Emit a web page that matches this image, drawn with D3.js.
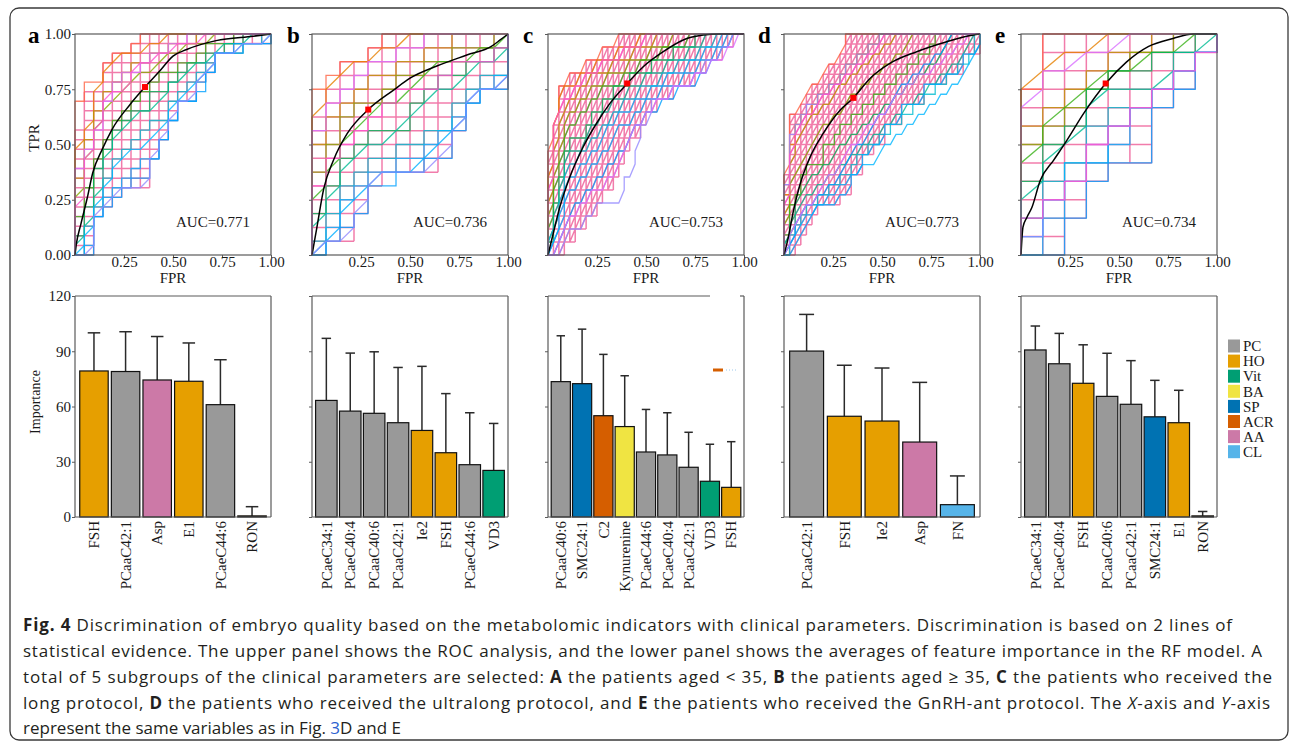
<!DOCTYPE html>
<html>
<head>
<meta charset="utf-8">
<script src="https://cdn.jsdelivr.net/npm/d3@7"></script>
<style>
body { margin: 0; background: #fff; }
svg { display: block; }
</style>
</head>
<body>
<svg id="fig"></svg>
<script>
const width = 1293;
const height = 745;
const svg = d3.select("#fig").attr("width", width).attr("height", height);

// ---------- data ----------
const panelLetters = ["a", "b", "c", "d", "e"];
const aucs = [0.771, 0.736, 0.753, 0.773, 0.734];
// ROC grid: number of FPR steps and TPR steps per panel
const gridNx = [21, 14, 36, 35, 9];
const gridNy = [23, 16, 17, 22, 12];

// each resampled ROC curve = TPR count reached at each FPR column (base36 char per column, missing = top)
const rocA = ["giikllmn", "bdhjklllmm", "8cfhijkkllmmm", "6adfghijjkllmmm", "47acefghijjkklmmm",
  "259bdeffhhijkkllmm", "136acdeffgiijkklmmm", "0358abcdeeghijklllmm", "02579abbcdfghijlllmmm",
  "0146789aaceggijlllmmm", "00456788acegghjllmmmm", "00456777aceggijlllmmm", "9bdgijjkllmm", "5adghhjkkllmmm"];
const rocB = ["cdeefg", "acdeeff", "8abcddeeff", "68abbcddeefffgg", "4689abbcdeeeffg", "3578999bcddeefg",
  "2467889abccdeeg", "1356778899bcddg", "0245667789abcdg", "01345666789bccg", "01235566779bccg",
  "01135666679bccg", "9bcdeeff", "5789abcccdeeefg"];
const rocC = ["8addeeefffggg", "6acdddeeeffffgggg", "48abccddeeeeffffgggg", "368abbccdddeeeeffffgggg",
  "2579aabbccddddeeeffffggggg", "1468999abbccdddeeeeffffgggg", "13578889aabbcccdddeeeeffffggg",
  "1246778899aabbcccddddeeeffffggg", "01356677889aabbbcccdddeeeefffggg", "0124556677889aaabbcccddddeeefffgg",
  "0012344556677889aabbbcccddddeeffgg", "00012223344444668aaccccddddeefffgghhh",
  "0012334455566789aabbcccddddeeefffgg", "5abccddeeeffffgggg"];
const rocD = ["8eefghhijjkm", "6bdeefgghhijjkkll", "49bcdeeffghhiijjkkll", "3789abcddeefgghhiijjkkl",
  "2568999bbcddeeffgghhiijjkkl", "135678899abbccddeeffgghhiijjkl", "124566778899aabbccddeeffgghhiijjkl",
  "0234556677889aabbccddeeffgghhiijjk", "01234455667788999abbccddeeffgghhijk",
  "00123455556688aabbdddffffhhhhiiikkkm", "013455667789abbcdeefghhiijjkkl", "7cdeffgghhijjkkll",
  "02345567889abbcddeefgghhiiijjkkll", "5acdeefgghhiijjkkl"];
const rocE = ["9ccccccccc", "9abbcccccc", "789abbcccc", "6789abbccc", "5789aabbcc", "4679aabbcc",
  "3568999bbc", "2457889abc", "1355789abc", "0245689abc", "00245589bc", "1346789abc", "8aabbccccc", "2346789abc"];
const rocCurves = [rocA, rocB, rocC, rocD, rocE];
// 1 = tied step drawn as a diagonal
const rocDiag = ["01010010100101", "01001010010100", "11111011111111", "10110110111011", "01001010000010"];

// upper and lower edge of the densely overlapped region of curves (same encoding)
const denseUpper = ["dhhkllmn", "aceefg", "8addeeefffggg", "8eefghhijjkm", "9c"];
const denseLower = ["00456777aceggijlllmmmn", "01135666679bccg", "00011223345567899abbcccddddeefffgghhh",
  "00123455556688aabbdddffffhhhhiiikkkm", "00245589bc"];
const denseDiag = [false, false, true, true, false];

// mean ROC curve
const meanFpr = [
  [0, 0.007, 0.03, 0.063, 0.09, 0.14, 0.19, 0.28, 0.357, 0.43, 0.5, 0.57, 0.72, 0.91, 1],
  [0, 0.025, 0.06, 0.11, 0.18, 0.287, 0.416, 0.5, 0.637, 0.79, 0.917, 0.96, 1],
  [0, 0.026, 0.06, 0.11, 0.18, 0.247, 0.315, 0.404, 0.486, 0.588, 0.69, 0.792, 0.877, 1],
  [0, 0.022, 0.048, 0.082, 0.133, 0.2, 0.286, 0.354, 0.44, 0.54, 0.677, 0.83, 0.932, 1],
  [0, 0.01, 0.03, 0.056, 0.098, 0.166, 0.234, 0.319, 0.432, 0.539, 0.649, 0.776, 0.878, 1]];
const meanTpr = [
  [0, 0.05, 0.14, 0.26, 0.37, 0.48, 0.57, 0.68, 0.76, 0.83, 0.9, 0.93, 0.97, 0.99, 1],
  [0, 0.125, 0.3, 0.43, 0.55, 0.658, 0.746, 0.8, 0.855, 0.905, 0.945, 0.973, 1],
  [0, 0.095, 0.216, 0.35, 0.49, 0.595, 0.685, 0.776, 0.852, 0.92, 0.973, 0.995, 1, 1],
  [0, 0.08, 0.2, 0.32, 0.443, 0.55, 0.655, 0.711, 0.8, 0.867, 0.92, 0.965, 0.99, 1],
  [0, 0.126, 0.17, 0.216, 0.337, 0.428, 0.519, 0.64, 0.776, 0.874, 0.943, 0.98, 1, 1]];
const cutFpr = [0.357, 0.287, 0.404, 0.354, 0.432];
const cutTpr = [0.76, 0.658, 0.776, 0.711, 0.776];

// feature importance (mean bar, upper end of error bar, class)
const barsA_names = ["FSH", "PCaaC42:1", "Asp", "E1", "PCaeC44:6", "RON"];
const barsA_mean = [79.3, 79.0, 74.4, 73.7, 61.0, 0.6];
const barsA_err = [100.0, 100.6, 98.0, 94.5, 85.4, 5.6];
const barsA_grp = ["HO", "PC", "AA", "HO", "PC", "HO"];

const barsB_names = ["PCaeC34:1", "PCaeC40:4", "PCaaC40:6", "PCaaC42:1", "Ie2", "FSH", "PCaeC44:6", "VD3"];
const barsB_mean = [63.3, 57.5, 56.3, 51.2, 47.0, 34.9, 28.4, 25.3];
const barsB_err = [97.0, 89.0, 89.7, 81.2, 81.8, 67.0, 56.6, 50.8];
const barsB_grp = ["PC", "PC", "PC", "PC", "HO", "HO", "PC", "Vit"];

const barsC_names = ["PCaaC40:6", "SMC24:1", "C2", "Kynurenine", "PCaeC44:6", "PCaeC40:4", "PCaaC42:1", "VD3", "FSH"];
const barsC_mean = [73.5, 72.4, 55.0, 49.1, 35.3, 33.7, 27.0, 19.4, 16.1];
const barsC_err = [98.4, 102.0, 88.3, 76.7, 58.4, 56.6, 46.0, 39.5, 40.9];
const barsC_grp = ["PC", "SP", "ACR", "BA", "PC", "PC", "PC", "Vit", "HO"];

const barsD_names = ["PCaaC42:1", "FSH", "Ie2", "Asp", "FN"];
const barsD_mean = [90.1, 54.7, 52.1, 40.7, 6.7];
const barsD_err = [110.0, 82.4, 80.9, 73.1, 22.3];
const barsD_grp = ["PC", "HO", "HO", "AA", "CL"];

const barsE_names = ["PCaeC34:1", "PCaeC40:4", "FSH", "PCaaC40:6", "PCaaC42:1", "SMC24:1", "E1", "RON"];
const barsE_mean = [90.7, 83.2, 72.6, 65.5, 61.2, 54.4, 51.2, 0.6];
const barsE_err = [103.7, 99.7, 93.5, 88.9, 84.9, 74.2, 68.8, 3.0];
const barsE_grp = ["PC", "PC", "HO", "PC", "PC", "SP", "HO", "HO"];

const barNames = [barsA_names, barsB_names, barsC_names, barsD_names, barsE_names];
const barMeans = [barsA_mean, barsB_mean, barsC_mean, barsD_mean, barsE_mean];
const barErrs = [barsA_err, barsB_err, barsC_err, barsD_err, barsE_err];
const barGrps = [barsA_grp, barsB_grp, barsC_grp, barsD_grp, barsE_grp];

const importanceTicks = [0, 30, 60, 90, 120];
const classes = ["PC", "HO", "Vit", "BA", "SP", "ACR", "AA", "CL"];
const classColors = ["#999999", "#E69F00", "#009E73", "#F0E442", "#0072B2", "#D55E00", "#CC79A7", "#56B4E9"];
const color = d3.scaleOrdinal().domain(classes).range(classColors);

// caption lines: [text, style]  n=normal b=bold i=italic l=link
const captionLines = [
  [["Fig. 4", "b"], [" Discrimination of embryo quality based on the metabolomic indicators with clinical parameters. Discrimination is based on 2 lines of", "n"]],
  [["statistical evidence. The upper panel shows the ROC analysis, and the lower panel shows the averages of feature importance in the RF model. A", "n"]],
  [["total of 5 subgroups of the clinical parameters are selected: ", "n"], ["A", "b"], [" the patients aged < 35, ", "n"], ["B", "b"], [" the patients aged \u2265 35, ", "n"], ["C", "b"], [" the patients who received the", "n"]],
  [["long protocol, ", "n"], ["D", "b"], [" the patients who received the ultralong protocol, and ", "n"], ["E", "b"], [" the patients who received the GnRH-ant protocol. The ", "n"], ["X", "i"], ["-axis and ", "n"], ["Y", "i"], ["-axis", "n"]],
  [["represent the same variables as in Fig. ", "n"], ["3", "l"], ["D and E", "n"]]
];
const captionWidths = [1209, 1239, 1249, 1247, null];

// ---------- layout ----------
const plotW = 196;
const plotLeft = [75, 312, 548, 784, 1021];
const letterX = [28, 287, 523, 758, 995];
const rocTop = 34, rocBottom = 255;
const barTop = 296, barBottom = 517;
const serif = "'Liberation Serif', 'Times New Roman', serif";
const frameColor = "#5a5a5a";
const gridPink = "#ee5b96";

// outer frame
svg.append("rect")
  .attr("x", 10).attr("y", 8)
  .attr("width", 1278).attr("height", 732)
  .attr("rx", 9)
  .attr("fill", "none")
  .attr("stroke", "#3a3a3a")
  .attr("stroke-width", 1.3);

function styleAxis(g) {
  g.select(".domain").remove();
  g.selectAll(".tick line").attr("stroke", frameColor);
  g.selectAll("text").attr("font-family", serif).attr("font-size", 15).attr("fill", "#1a1a1a");
}

function heights(s, nx, ny) {
  const h = [];
  for (let i = 0; i <= nx; i++) {
    let v = i < s.length ? parseInt(s[i], 36) : ny;
    if (i > 0) v = Math.max(v, h[i - 1]);
    h.push(Math.min(v, ny));
  }
  return h;
}

function drawRoc(p) {
  const x0 = plotLeft[p];
  const x = d3.scaleLinear().domain([0, 1]).range([x0, x0 + plotW]);
  const y = d3.scaleLinear().domain([0, 1]).range([rocBottom, rocTop]);
  const nx = gridNx[p], ny = gridNy[p];
  const gx = d3.scaleLinear().domain([0, nx]).range([x0, x0 + plotW]);
  const gy = d3.scaleLinear().domain([0, ny]).range([rocBottom, rocTop]);
  const curves = rocCurves[p];
  const g = svg.append("g");
  const line = d3.line().x(d => gx(d[0])).y(d => gy(d[1]));

  // dense overlap region: every cell edge between the two edges
  const lo = heights(denseLower[p], nx, ny), up = heights(denseUpper[p], nx, ny);
  const gp = d3.path();
  for (let i = 0; i < nx; i++) {
    for (let j = lo[i]; j <= up[i]; j++) {
      gp.moveTo(gx(i), gy(j)); gp.lineTo(gx(i + 1), gy(j));
    }
    if (denseDiag[p]) {
      for (let j = lo[i]; j < up[i]; j++) {
        gp.moveTo(gx(i), gy(j)); gp.lineTo(gx(i + 1), gy(j + 1));
      }
    }
  }
  for (let i = 0; i <= nx; i++) {
    const b = i === 0 ? 0 : lo[i - 1];
    const t = i === nx ? ny : up[i];
    gp.moveTo(gx(i), gy(b)); gp.lineTo(gx(i), gy(t));
  }
  g.append("path")
    .attr("d", gp.toString())
    .attr("fill", "none")
    .attr("stroke", gridPink)
    .attr("stroke-opacity", 0.8)
    .attr("stroke-width", 1.5);

  curves.forEach(function(s, k) {
    const h = heights(s, nx, ny);
    const diag = rocDiag[p][k] === "1";
    const pts = [[0, 0], [0, h[0]]];
    for (let i = 1; i <= nx; i++) {
      const prev = h[i - 1];
      if (diag && h[i] > prev) pts.push([i, prev + 1]);
      else pts.push([i, prev]);
      pts.push([i, h[i]]);
    }
    const hue = 40 + k * 300 / (curves.length - 1);
    g.append("path")
      .attr("d", line(pts))
      .attr("fill", "none")
      .attr("stroke", d3.hcl(hue, 80, 64).formatHex())
      .attr("stroke-opacity", 0.8)
      .attr("stroke-width", 1.3);
  });

  // mean curve
  const meanPts = meanFpr[p].map((f, i) => [f, meanTpr[p][i]]);
  g.append("path")
    .attr("d", d3.line().x(d => x(d[0])).y(d => y(d[1])).curve(d3.curveMonotoneX)(meanPts))
    .attr("fill", "none")
    .attr("stroke", "#000")
    .attr("stroke-width", 1.5);
  g.append("rect")
    .attr("x", x(cutFpr[p]) - 3).attr("y", y(cutTpr[p]) - 3)
    .attr("width", 6).attr("height", 6)
    .attr("fill", "#ff0000");

  // frame
  g.append("rect")
    .attr("x", x0).attr("y", rocTop)
    .attr("width", plotW).attr("height", rocBottom - rocTop)
    .attr("fill", "none").attr("stroke", frameColor).attr("stroke-width", 1.2);

  g.append("g").attr("transform", `translate(0,${rocBottom})`)
    .call(d3.axisBottom(x).tickValues([0.25, 0.5, 0.75, 1]).tickFormat(d3.format(".2f")).tickSize(3).tickPadding(-1.5))
    .call(styleAxis);
  g.append("g").attr("transform", `translate(${x0},0)`)
    .call(d3.axisLeft(y).tickValues([0, 0.25, 0.5, 0.75, 1])
      .tickFormat(p === 0 ? d3.format(".2f") : () => "").tickSize(3).tickPadding(1))
    .call(styleAxis);

  g.append("text")
    .attr("x", x0 + 101).attr("y", 227)
    .attr("font-family", serif).attr("font-size", 15).attr("fill", "#1a1a1a")
    .text("AUC=" + aucs[p].toFixed(3));
  g.append("text")
    .attr("x", x0 + plotW / 2).attr("y", 283)
    .attr("text-anchor", "middle")
    .attr("font-family", serif).attr("font-size", 15).attr("fill", "#1a1a1a")
    .text("FPR");
  g.append("text")
    .attr("x", letterX[p]).attr("y", 43)
    .attr("font-family", serif).attr("font-size", 23).attr("font-weight", "bold")
    .text(panelLetters[p]);
  if (p === 0) {
    g.append("text")
      .attr("transform", "translate(34,138) rotate(-90)")
      .attr("text-anchor", "middle").attr("dy", "0.35em")
      .attr("font-family", serif).attr("font-size", 15).attr("fill", "#1a1a1a")
      .text("TPR");
  }
}

function drawBars(p) {
  const x0 = plotLeft[p];
  const names = barNames[p];
  const x = d3.scaleBand().domain(names).range([x0, x0 + plotW]).paddingInner(0.1).paddingOuter(0.15);
  const y = d3.scaleLinear().domain([0, 120]).range([barBottom, barTop]);
  const bw = x.bandwidth();
  const g = svg.append("g");
  const rows = names.map((n, i) => ({name: n, mean: barMeans[p][i], err: barErrs[p][i], grp: barGrps[p][i]}));

  // error bars
  g.selectAll(".err").data(rows).enter().append("line")
    .attr("x1", d => x(d.name) + bw / 2).attr("x2", d => x(d.name) + bw / 2)
    .attr("y1", d => y(d.mean)).attr("y2", d => y(d.err))
    .attr("stroke", "#2a2a2a").attr("stroke-width", 1.5);
  g.selectAll(".cap").data(rows).enter().append("line")
    .attr("x1", d => x(d.name) + bw / 2 - bw * 0.22).attr("x2", d => x(d.name) + bw / 2 + bw * 0.22)
    .attr("y1", d => y(d.err)).attr("y2", d => y(d.err))
    .attr("stroke", "#2a2a2a").attr("stroke-width", 1.5);

  g.selectAll(".bar").data(rows).enter().append("rect")
    .attr("x", d => x(d.name)).attr("width", bw)
    .attr("y", d => y(d.mean)).attr("height", d => y(0) - y(d.mean))
    .attr("fill", d => color(d.grp))
    .attr("stroke", "#111").attr("stroke-width", 1.2);

  // frame (panel c has a broken top edge in the original)
  const fr = g.append("g").attr("stroke", frameColor).attr("stroke-width", 1.2);
  fr.append("line").attr("x1", x0).attr("x2", x0).attr("y1", barTop).attr("y2", barBottom);
  fr.append("line").attr("x1", x0 + plotW).attr("x2", x0 + plotW).attr("y1", barTop).attr("y2", barBottom);
  fr.append("line").attr("x1", x0).attr("x2", x0 + plotW).attr("y1", barBottom).attr("y2", barBottom);
  if (p === 2) {
    fr.append("line").attr("x1", x0).attr("x2", 710).attr("y1", barTop).attr("y2", barTop);
    fr.append("line").attr("x1", 740).attr("x2", x0 + plotW).attr("y1", barTop).attr("y2", barTop);
    g.append("rect").attr("x", 713).attr("y", 368.5).attr("width", 10).attr("height", 3).attr("fill", "#D55E00");
    g.append("line").attr("x1", 726).attr("x2", 736).attr("y1", 370).attr("y2", 370)
      .attr("stroke", "#9cc8ea").attr("stroke-dasharray", "1,2");
  } else {
    fr.append("line").attr("x1", x0).attr("x2", x0 + plotW).attr("y1", barTop).attr("y2", barTop);
  }

  g.append("g").attr("transform", `translate(${x0},0)`)
    .call(d3.axisLeft(y).tickValues(importanceTicks)
      .tickFormat(p === 0 ? d3.format("d") : () => "").tickSize(3).tickPadding(1))
    .call(styleAxis);

  g.selectAll(".lab").data(rows).enter().append("text")
    .attr("transform", d => `translate(${x(d.name) + bw / 2},${barBottom + 4}) rotate(-90)`)
    .attr("text-anchor", "end").attr("dy", "0.35em")
    .attr("font-family", serif).attr("font-size", 15).attr("fill", "#1a1a1a")
    .text(d => d.name);

  if (p === 0) {
    g.append("text")
      .attr("transform", "translate(35,402) rotate(-90)")
      .attr("text-anchor", "middle").attr("dy", "0.35em")
      .attr("font-family", serif).attr("font-size", 14).attr("fill", "#1a1a1a")
      .text("Importance");
  }
}

for (let p = 0; p < 5; p++) {
  drawRoc(p);
  drawBars(p);
}

// legend
const leg = svg.append("g");
classes.forEach(function(c, i) {
  const cy = 346 + i * 15.1;
  leg.append("rect").attr("x", 1228).attr("y", cy - 6.5).attr("width", 12).attr("height", 13).attr("fill", color(c));
  leg.append("text").attr("x", 1243).attr("y", cy).attr("dy", "0.35em")
    .attr("font-family", serif).attr("font-size", 15).attr("fill", "#1a1a1a")
    .text(c);
});

// caption
const captionBase = [631, 657, 683, 709, 734];
captionLines.forEach(function(parts, li) {
  const t = svg.append("text")
    .attr("x", 23).attr("y", captionBase[li])
    .attr("font-family", "'Open Sans', 'Noto Sans', sans-serif")
    .attr("font-size", 17).attr("fill", "#231f20");
  if (captionWidths[li]) t.attr("textLength", captionWidths[li]).attr("lengthAdjust", "spacing");
  parts.forEach(function(part) {
    const s = t.append("tspan").text(part[0]);
    if (part[1] === "b") s.attr("font-weight", "bold");
    if (part[1] === "i") s.attr("font-style", "italic");
    if (part[1] === "l") s.attr("fill", "#2b5fcf");
  });
});
</script>
</body>
</html>
